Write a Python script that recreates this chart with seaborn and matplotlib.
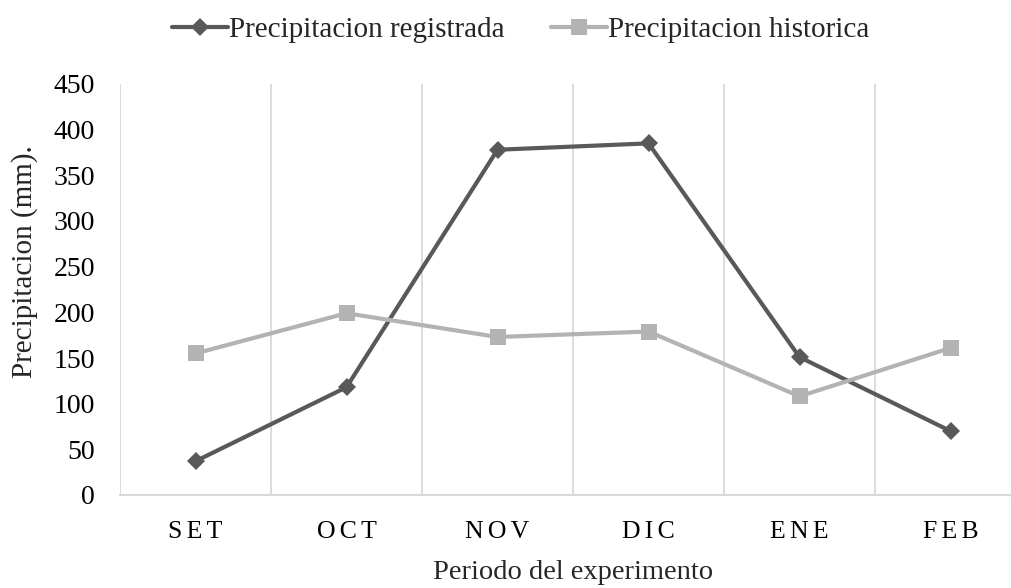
import matplotlib
matplotlib.use("Agg")
import matplotlib.pyplot as plt
from matplotlib.lines import Line2D
import seaborn as sns
import pandas as pd

meses = ["SET", "OCT", "NOV", "DIC", "ENE", "FEB"]
registrada = [37, 118, 378, 385, 151, 70]
historica = [155, 199, 173, 179, 108, 161]
y_ticks = [0, 50, 100, 150, 200, 250, 300, 350, 400, 450]

sns.set_theme(style="white")
plt.rcParams["font.family"] = ["Liberation Serif", "DejaVu Serif"]

df = pd.DataFrame({
    "mes": meses * 2,
    "valor": registrada + historica,
    "serie": ["Precipitacion registrada"] * 6 + ["Precipitacion historica"] * 6,
})
df["pos"] = df["mes"].map({m: i for i, m in enumerate(meses)})

fig = plt.figure(figsize=(10.12, 5.88), dpi=100)
ax = fig.add_axes([120 / 1012, 93 / 588, 906 / 1012, 411 / 588])

oscuro = "#595959"
claro = "#b3b3b3"
lw = 3.0
ms_d, ms_s = 9.5, 11

sns.lineplot(data=df, x="pos", y="valor", hue="serie", style="serie",
             palette={"Precipitacion registrada": oscuro, "Precipitacion historica": claro},
             markers={"Precipitacion registrada": "D", "Precipitacion historica": "s"},
             dashes=False, linewidth=lw, markersize=ms_d, markeredgewidth=0,
             ax=ax, legend=False, zorder=3)

# square markers are a bit larger than the diamonds
for line, ms in zip(ax.lines, [ms_d, ms_s]):
    line.set_markersize(ms)

ax.set_xlim(-0.5, 5.5)
ax.set_ylim(0, 450)
ax.set_yticks(y_ticks)
ax.set_yticklabels([str(v) for v in y_ticks], fontsize=20)
ax.set_xticks(range(len(meses)))
ax.set_xticklabels(["\u2006".join(m) for m in meses], fontsize=18.5)
ax.tick_params(axis="both", length=0, colors="black")
ax.tick_params(axis="x", pad=19)
ax.tick_params(axis="y", pad=18)

# vertical gridlines between categories
for b in [x - 0.5 for x in range(len(meses) + 1)]:
    ax.axvline(b, color="#d9d9d9", linewidth=1.3, zorder=1)

for s in ["top", "right", "left"]:
    ax.spines[s].set_visible(False)
ax.spines["bottom"].set_color("#d9d9d9")
ax.spines["bottom"].set_linewidth(1.5)

ax.set_xlabel("Periodo del experimento", fontsize=20.5, labelpad=12)
ax.set_ylabel("Precipitacion (mm).", fontsize=21)
ax.yaxis.set_label_coords(-0.09, 0.567)

handles = [
    Line2D([], [], color=oscuro, marker="D", markersize=ms_d, linewidth=lw, markeredgewidth=0),
    Line2D([], [], color=claro, marker="s", markersize=ms_s, linewidth=lw, markeredgewidth=0),
]
fig.legend(handles, ["Precipitacion registrada", "Precipitacion historica"],
           loc="center", bbox_to_anchor=(521 / 1012, 1 - 30 / 588), ncol=2,
           frameon=False, fontsize=21, handlelength=1.9, handletextpad=0.05,
           columnspacing=1.6)

fig.savefig("out.png", dpi=100)
